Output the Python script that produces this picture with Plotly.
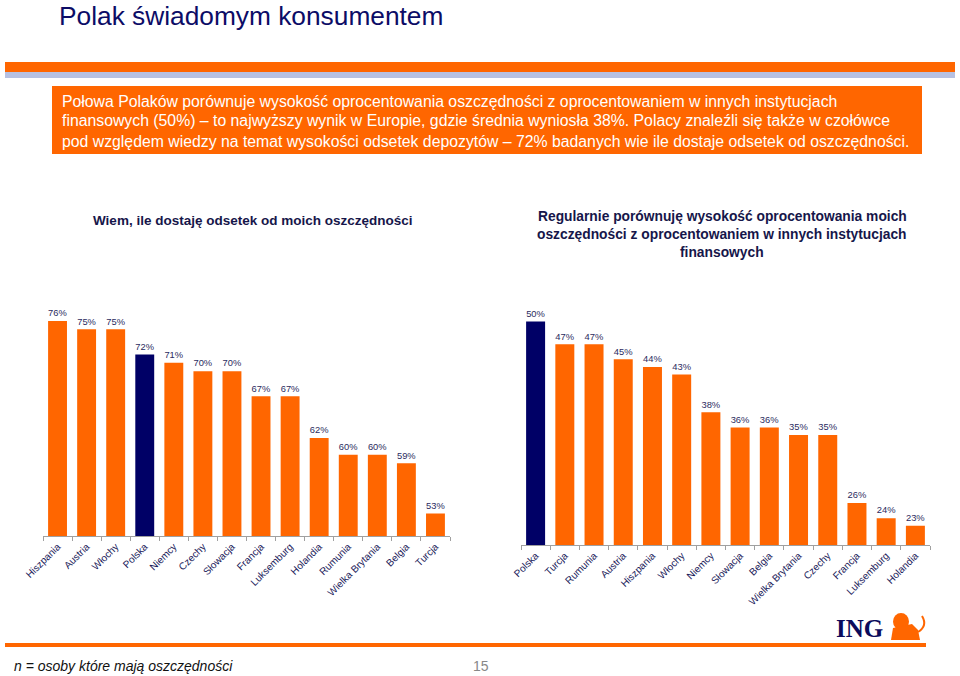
import plotly.graph_objects as go

W, H = 960, 676

# ---------------- data ----------------
left_countries = ["Hiszpania", "Austria", "Włochy", "Polska", "Niemcy", "Czechy", "Słowacja",
                  "Francja", "Luksemburg", "Holandia", "Rumunia", "Wielka Brytania", "Belgia", "Turcja"]
left_values = [76, 75, 75, 72, 71, 70, 70, 67, 67, 62, 60, 60, 59, 53]

right_countries = ["Polska", "Turcja", "Rumunia", "Austria", "Hiszpania", "Włochy", "Niemcy",
                   "Słowacja", "Belgia", "Wielka Brytania", "Czechy", "Francja", "Luksemburg", "Holandia"]
right_values = [50, 47, 47, 45, 44, 43, 38, 36, 36, 35, 35, 26, 24, 23]

left_title = "Wiem, ile dostaję odsetek od moich oszczędności"
right_title = ["Regularnie porównuję wysokość oprocentowania moich",
               "oszczędności z oprocentowaniem w innych instytucjach",
               "finansowych"]
main_title = "Polak świadomym konsumentem"
box_lines = [
    "Połowa Polaków porównuje wysokość oprocentowania oszczędności z oprocentowaniem w innych instytucjach",
    "finansowych (50%) – to najwyższy wynik w Europie, gdzie średnia wyniosła 38%. Polacy znaleźli się także w czołówce",
    "pod względem wiedzy na temat wysokości odsetek depozytów – 72% badanych wie ile dostaje odsetek od oszczędności.",
]
footnote = "n = osoby które mają oszczędności"
page_no = "15"

ORANGE = "#ff6600"
NAVY = "#000066"
LABEL = "#2b2b60"
FONT = "Liberation Sans, Arial, sans-serif"


def px(x):
    return x / W


def py(y):
    return 1 - y / H


def colors(cats):
    return [NAVY if c == "Polska" else ORANGE for c in cats]


fig = go.Figure()

fig.add_trace(go.Bar(
    x=left_countries, y=left_values, xaxis="x", yaxis="y",
    marker=dict(color=colors(left_countries), line=dict(width=0)),
    text=[f"{v}%" for v in left_values], textposition="outside",
    textfont=dict(size=11, color=LABEL, family=FONT), cliponaxis=False,
    hoverinfo="x+y", showlegend=False,
))
fig.add_trace(go.Bar(
    x=right_countries, y=right_values, xaxis="x2", yaxis="y2",
    marker=dict(color=colors(right_countries), line=dict(width=0)),
    text=[f"{v}%" for v in right_values], textposition="outside",
    textfont=dict(size=11, color=LABEL, family=FONT), cliponaxis=False,
    hoverinfo="x+y", showlegend=False,
))

xaxis_common = dict(
    showline=True, linecolor="#a0a0a0", linewidth=1,
    ticks="outside", ticklen=4, tickcolor="#a0a0a0", tickson="boundaries",
    tickangle=-45, tickfont=dict(size=10, color="#1a1a5a", family=FONT),
    showgrid=False, zeroline=False, fixedrange=True, automargin=False,
)
yaxis_common = dict(visible=False, showgrid=False, zeroline=False, fixedrange=True, automargin=False)

fig.update_layout(
    width=W, height=H,
    margin=dict(l=0, r=0, t=0, b=0, pad=0),
    paper_bgcolor="white", plot_bgcolor="white",
    bargap=0.35,
    font=dict(family=FONT),
    xaxis=dict(domain=[px(43), px(450)], **xaxis_common),
    yaxis=dict(domain=[py(536), py(285)], range=[50.3, 80.3], **yaxis_common),
    xaxis2=dict(domain=[px(521), px(930)], anchor="y2", **xaxis_common),
    yaxis2=dict(domain=[py(545), py(303)], range=[20.45, 52.45], anchor="x2", **yaxis_common),
)

shapes = [
    # top bands
    dict(type="rect", xref="paper", yref="paper", x0=px(5), x1=px(955), y0=py(72), y1=py(62),
         fillcolor=ORANGE, line=dict(width=0), layer="below"),
    dict(type="rect", xref="paper", yref="paper", x0=px(5), x1=px(955), y0=py(78), y1=py(72),
         fillcolor="#b7c1e2", line=dict(width=0), layer="below"),
    # orange text box
    dict(type="rect", xref="paper", yref="paper", x0=px(52), x1=px(922), y0=py(154), y1=py(86),
         fillcolor=ORANGE, line=dict(width=0), layer="below"),
    # bottom line
    dict(type="rect", xref="paper", yref="paper", x0=px(5), x1=px(926), y0=py(647), y1=py(643),
         fillcolor=ORANGE, line=dict(width=0), layer="below"),
    # simple lion glyph approximation
    dict(type="circle", xref="paper", yref="paper", x0=px(893), x1=px(909), y0=py(630), y1=py(613),
         fillcolor=ORANGE, line=dict(width=0)),
    dict(type="path", xref="paper", yref="paper",
         path=f"M {px(891)} {py(640)} L {px(893)} {py(628)} L {px(912)} {py(624)} "
              f"L {px(918)} {py(630)} L {px(920)} {py(640)} Z",
         fillcolor=ORANGE, line=dict(width=0)),
    dict(type="path", xref="paper", yref="paper",
         path=f"M {px(918)} {py(632)} Q {px(928)} {py(626)} {px(922)} {py(616)}",
         line=dict(color=ORANGE, width=2)),
]
fig.update_layout(shapes=shapes)

ann = []
ann.append(dict(text=main_title, x=px(57), y=py(16), xref="paper", yref="paper",
                xanchor="left", yanchor="middle", showarrow=False,
                font=dict(size=26.3, color="#0c0c66", family=FONT)))
for i, line in enumerate(box_lines):
    ann.append(dict(text=line, x=px(60), y=py(101 + 20 * i), xref="paper", yref="paper",
                    xanchor="left", yanchor="middle", showarrow=False,
                    font=dict(size=15.8, color="white", family=FONT)))
ann.append(dict(text=f"<b>{left_title}</b>", x=px(252), y=py(221), xref="paper", yref="paper",
                xanchor="center", yanchor="middle", showarrow=False,
                font=dict(size=13.5, color="#16164a", family=FONT)))
for i, line in enumerate(right_title):
    ann.append(dict(text=f"<b>{line}</b>", x=px(722), y=py(217 + 17.5 * i), xref="paper", yref="paper",
                    xanchor="center", yanchor="middle", showarrow=False,
                    font=dict(size=13.8, color="#16164a", family=FONT)))
ann.append(dict(text="<b>ING</b>", x=px(859), y=py(628), xref="paper", yref="paper",
                xanchor="center", yanchor="middle", showarrow=False,
                font=dict(size=25, color="#0b0b5c", family="Liberation Serif, DejaVu Serif, serif")))
ann.append(dict(text=f"<i>{footnote}</i>", x=px(12), y=py(666), xref="paper", yref="paper",
                xanchor="left", yanchor="middle", showarrow=False,
                font=dict(size=14, color="#111111", family=FONT)))
ann.append(dict(text=page_no, x=px(481), y=py(666), xref="paper", yref="paper",
                xanchor="center", yanchor="middle", showarrow=False,
                font=dict(size=14, color="#888888", family=FONT)))
fig.update_layout(annotations=ann)

fig.write_html("out.html", config={"displayModeBar": False},
               post_script="document.body.style.margin='0';document.body.style.overflow='hidden';")
